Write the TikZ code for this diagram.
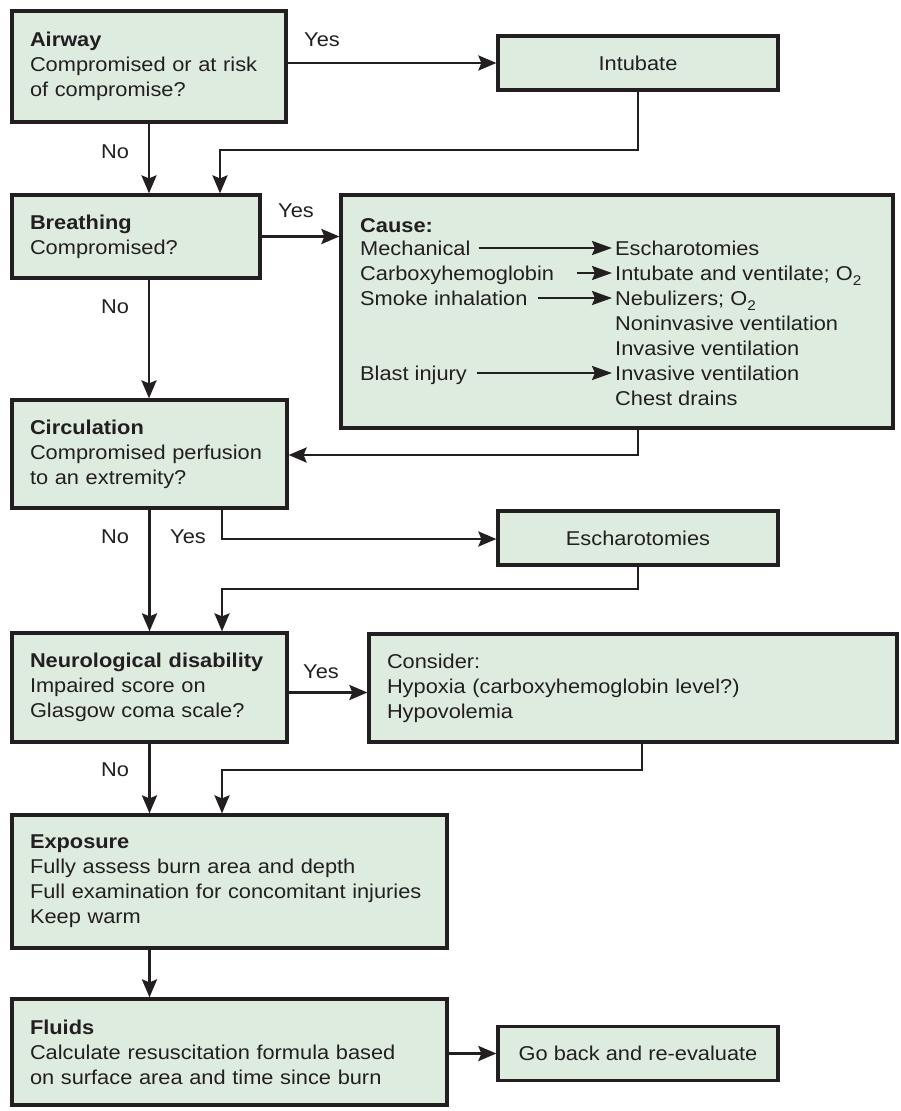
\documentclass[tikz,border=0pt]{standalone}
\usepackage{fontspec}
\setmainfont{Liberation Sans}[FakeStretch=1.09]
\usepackage{tikz}
\usetikzlibrary{arrows.meta}
\definecolor{boxfill}{HTML}{DEEBDF}
\definecolor{ink}{HTML}{231F20}
\newcommand{\Otwo}{O\raisebox{-5pt}{\fontsize{14}{14}\selectfont 2}}

\begin{document}
\begin{tikzpicture}[
    x=1pt, y=-1pt,
    font=\fontsize{20}{25}\selectfont,
    text=ink,
    block/.style={draw=ink, fill=boxfill, line width=3.2pt, align=left,
                  inner xsep=18pt, inner ysep=0pt},
    action/.style={draw=ink, fill=boxfill, line width=3.2pt, align=center,
                  minimum width=280pt, minimum height=54pt},
    lbl/.style={inner sep=0pt},
    item/.style={inner sep=0pt, anchor=west, text height=14pt, text depth=0pt},
    arrow/.style={-{Stealth[length=18pt,width=15pt,inset=3pt]}, line width=2.7pt, draw=ink},
    itemarrow/.style={-{Stealth[length=20pt,width=14pt,inset=3pt]}, line width=2.3pt, draw=ink}
]
  \useasboundingbox (0,0) rectangle (900,1111);

  % left column: the primary survey
  \node[block, text width=238pt, minimum height=111pt] (airway) at (149,66.5)
    {\textbf{Airway}\\Compromised or at risk\\of compromise?};
  \node[block, text width=212pt, minimum height=83pt] (breathing) at (136,236.5)
    {\textbf{Breathing}\\Compromised?};
  \node[block, text width=239pt, minimum height=108pt] (circ) at (149.5,454)
    {\textbf{Circulation}\\Compromised perfusion\\to an extremity?};
  \node[block, text width=239pt, minimum height=109pt] (neuro) at (149.5,687.5)
    {\textbf{Neurological disability}\\Impaired score on\\Glasgow coma scale?};
  \node[block, text width=399pt, minimum height=133pt] (exposure) at (229.5,881.5)
    {\textbf{Exposure}\\Fully assess burn area and depth\\Full examination for concomitant injuries\\Keep warm};
  \node[block, text width=399pt, minimum height=106pt] (fluids) at (229.5,1052)
    {\textbf{Fluids}\\Calculate resuscitation formula based\\on surface area and time since burn};

  % right column: actions
  \node[action] (intubate) at (638,63) {Intubate};
  \node[block, minimum width=552pt, minimum height=233pt] (cause) at (617,311.5) {};
  \node[action] (eschar) at (638,538) {Escharotomies};
  \node[block, text width=492pt, minimum height=108pt] (consider) at (633,688)
    {Consider:\\Hypoxia (carboxyhemoglobin level?)\\Hypovolemia};
  \node[action] (goback) at (638,1053.5) {Go back and re-evaluate};

  % inside the cause box
  \node[item] (causehd) at (360,225) {\textbf{Cause:}};
  \node[item] (mech) at (360,248) {Mechanical};
  \node[item] (carbo) at (360,273) {Carboxyhemoglobin};
  \node[item] (smoke) at (360,298) {Smoke inhalation};
  \node[item] (blast) at (360,373) {Blast injury};
  \node[item] (r1) at (615,248) {Escharotomies};
  \node[item] (r2) at (615,273) {Intubate and ventilate; \Otwo};
  \node[item] (r3) at (615,298) {Nebulizers; \Otwo};
  \node[item] (r4) at (615,323) {Noninvasive ventilation};
  \node[item] (r5) at (615,348) {Invasive ventilation};
  \node[item] (r6) at (615,373) {Invasive ventilation};
  \node[item] (r7) at (615,398) {Chest drains};
  \draw[itemarrow] ([xshift=8pt]mech.east) -- ([xshift=-3pt]r1.west);
  \draw[itemarrow] ([xshift=23pt]carbo.east) -- ([xshift=-3pt]r2.west);
  \draw[itemarrow] ([xshift=10pt]smoke.east) -- ([xshift=-3pt]r3.west);
  \draw[itemarrow] ([xshift=10pt]blast.east) -- ([xshift=-3pt]r6.west);

  % yes / no labels
  \node[lbl] (yes1) at (322,40) {Yes};
  \node[lbl] (no1) at (115,152) {No};
  \node[lbl] (yes2) at (296,211) {Yes};
  \node[lbl] (no2) at (115,307) {No};
  \node[lbl] (no3) at (115,537) {No};
  \node[lbl] (yes3) at (188,537) {Yes};
  \node[lbl] (yes4) at (321,672) {Yes};
  \node[lbl] (no4) at (115,770) {No};

  \coordinate (j1) at (220,150);
  \coordinate (j2) at (638,455);
  \coordinate (j3) at (222,539);
  \coordinate (j4) at (222,589);
  \coordinate (j5) at (642,770);

  \draw[arrow] (airway.east |- intubate) -- (intubate.west);
  \draw[arrow] (intubate.south) |- (j1) -- (j1 |- breathing.north);
  \draw[arrow] (airway.south) -- (airway.south |- breathing.north);
  \draw[arrow] (breathing.east) -- (breathing.east -| cause.west);
  \draw[arrow] (airway.south |- breathing.south) -- (airway.south |- circ.north);
  \draw[arrow] (j2 |- cause.south) -- (j2) -- (j2 -| circ.east);
  \draw[arrow] (circ.south) -- (circ.south |- neuro.north);
  \draw[arrow] (j3 |- circ.south) -- (j3) -- (j3 -| eschar.west);
  \draw[arrow] (eschar.south) |- (j4) -- (j4 |- neuro.north);
  \draw[arrow] ([yshift=-5pt]neuro.east) -- ([yshift=-5pt]neuro.east -| consider.west);
  \draw[arrow] (neuro.south) -- (neuro.south |- exposure.north);
  \draw[arrow] (j5 |- consider.south) -- (j5) -| (j4 |- exposure.north);
  \draw[arrow] (neuro.south |- exposure.south) -- (neuro.south |- fluids.north);
  \draw[arrow] (fluids.east |- goback) -- (goback.west);
\end{tikzpicture}
\end{document}
